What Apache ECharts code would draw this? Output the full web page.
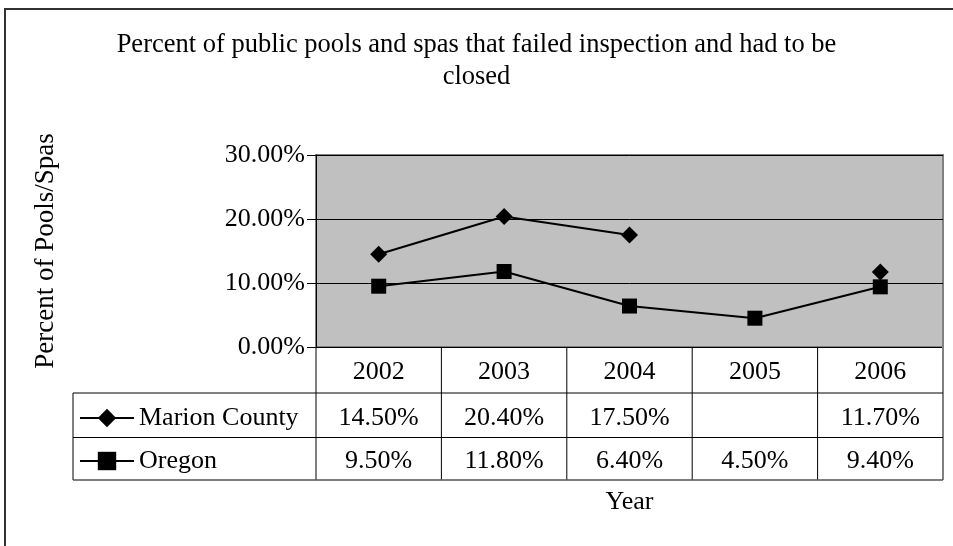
<!DOCTYPE html>
<html>
<head>
<meta charset="utf-8">
<script src="https://cdn.jsdelivr.net/npm/echarts@6/dist/echarts.min.js"></script>
<style>
  html, body { margin: 0; padding: 0; background: #fff; }
  #main { width: 953px; height: 546px; }
</style>
</head>
<body>
<div id="main"></div>
<script>
// data
var years = ['2002', '2003', '2004', '2005', '2006'];
var marion = [0.145, 0.204, 0.175, null, 0.117];
var oregon = [0.095, 0.118, 0.064, 0.045, 0.094];
var seriesNames = ['Marion County', 'Oregon'];

var FONT = '"Liberation Serif", "Times New Roman", serif';
var FS = 26;
var chart = echarts.init(document.getElementById('main'));

function pct(v) {
  return v == null ? '' : (v * 100).toFixed(2) + '%';
}

var option = {
  animation: false,
  textStyle: { fontFamily: FONT, color: '#000' },
  title: {
    text: 'Percent of public pools and spas that failed inspection and had to be\nclosed',
    left: 'center',
    top: 24,
    textStyle: { fontFamily: FONT, fontSize: 26.5, fontWeight: 'normal', lineHeight: 32, color: '#000' }
  },
  grid: {
    left: 316, right: 10, top: 155, bottom: 199,
    show: true, backgroundColor: '#c0c0c0', borderColor: '#808080', borderWidth: 2
  },
  legend: [
    {
      data: [seriesNames[0]], left: 79, top: 405, padding: 0,
      itemWidth: 54, itemHeight: 23,
      lineStyle: { width: 2 },
      textStyle: { fontFamily: FONT, fontSize: FS, color: '#000' }
    },
    {
      data: [seriesNames[1]], left: 79, top: 448, padding: 0,
      itemWidth: 54, itemHeight: 23,
      lineStyle: { width: 2 },
      textStyle: { fontFamily: FONT, fontSize: FS, color: '#000' }
    }
  ],
  xAxis: {
    type: 'category',
    data: years,
    boundaryGap: true,
    axisLine: { lineStyle: { color: '#000', width: 1 } },
    axisTick: { show: false },
    axisLabel: { fontFamily: FONT, fontSize: FS, color: '#000', margin: 12 },
    name: 'Year',
    nameLocation: 'middle',
    nameGap: 142,
    nameTextStyle: { fontFamily: FONT, fontSize: FS, color: '#000' }
  },
  yAxis: {
    type: 'value',
    min: 0, max: 0.3, interval: 0.1,
    axisLine: { show: true, lineStyle: { color: '#000', width: 1 } },
    axisTick: { show: true, length: 9, lineStyle: { color: '#000' } },
    axisLabel: {
      fontFamily: FONT, fontSize: FS, color: '#000', margin: 11,
      formatter: function (v) { return (v * 100).toFixed(2) + '%'; }
    },
    splitLine: { lineStyle: { color: '#000', width: 1 } },
    name: 'Percent of Pools/Spas',
    nameLocation: 'middle',
    nameGap: 257,
    nameTextStyle: { fontFamily: FONT, fontSize: 27, color: '#000' }
  },
  series: [
    {
      name: seriesNames[0], type: 'line', data: marion,
      symbol: 'diamond', symbolSize: 17, connectNulls: false,
      lineStyle: { color: '#000', width: 2 }, itemStyle: { color: '#000' }
    },
    {
      name: seriesNames[1], type: 'line', data: oregon,
      symbol: 'rect', symbolSize: 15,
      lineStyle: { color: '#000', width: 2 }, itemStyle: { color: '#000' }
    }
  ]
};
chart.setOption(option);

// data table under the plot, placed from the axis scales
function buildTable() {
  var c0 = chart.convertToPixel({ xAxisIndex: 0 }, years[0]);
  var c1 = chart.convertToPixel({ xAxisIndex: 0 }, years[1]);
  var colW = c1 - c0;
  var left = c0 - colW / 2;
  var right = left + colW * years.length;
  var y0 = chart.convertToPixel({ yAxisIndex: 0 }, 0);
  var rows = [y0, y0 + 46, y0 + 90.5, y0 + 133];
  var tableLeft = 73;
  var els = [];

  // outer chart border
  els.push({ type: 'rect', z: 0, shape: { x: 5, y: 9, width: 960, height: 560 },
    style: { fill: null, stroke: '#333', lineWidth: 2 } });

  for (var i = 0; i <= years.length; i++) {
    var x = left + i * colW;
    els.push({ type: 'line', z: 10, shape: { x1: x, y1: rows[0], x2: x, y2: rows[3] },
      style: { stroke: i == years.length ? '#808080' : '#000', lineWidth: i == years.length ? 2 : 1 } });
  }
  els.push({ type: 'line', z: 10, shape: { x1: tableLeft, y1: rows[1], x2: tableLeft, y2: rows[3] },
    style: { stroke: '#808080', lineWidth: 2 } });
  for (var r = 1; r < rows.length; r++) {
    els.push({ type: 'line', z: 10, shape: { x1: tableLeft, y1: rows[r], x2: right, y2: rows[r] },
      style: { stroke: r == 3 ? '#555' : '#000', lineWidth: r == 3 ? 1.5 : 1 } });
  }

  var rowData = [marion, oregon];
  for (var k = 0; k < rowData.length; k++) {
    var cy = (rows[k + 1] + rows[k + 2]) / 2 + 2.5;
    for (var j = 0; j < years.length; j++) {
      var cx = chart.convertToPixel({ xAxisIndex: 0 }, years[j]);
      els.push({ type: 'text', z: 10, x: cx, y: cy,
        style: { text: pct(rowData[k][j]), font: FS + 'px ' + FONT, fill: '#000', align: 'center', verticalAlign: 'middle' } });
    }
  }
  chart.setOption({ graphic: els });
}
buildTable();
</script>
</body>
</html>
